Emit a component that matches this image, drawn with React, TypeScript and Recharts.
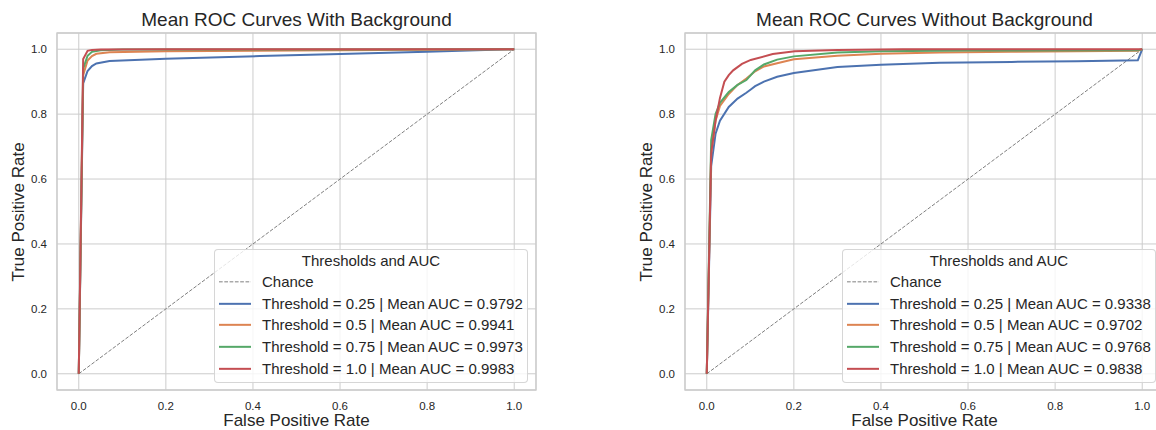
import React from 'react';
import { LineChart, Line, XAxis, YAxis, CartesianGrid, ReferenceArea, Legend, Customized } from 'recharts';

const axisTicks = [0, 0.2, 0.4, 0.6, 0.8, 1.0];
const chanceFpr = [0, 1];
const chanceTpr = [0, 1];
const thresholds = ['0.25', '0.5', '0.75', '1.0'];
const leftAuc = ['0.9792', '0.9941', '0.9973', '0.9983'];
const rightAuc = ['0.9338', '0.9702', '0.9768', '0.9838'];
const colors = ['#4C72B0', '#DD8452', '#55A868', '#C44E52'];

// With background
const leftFpr025 = [0, 0.0101, 0.0202, 0.0303, 0.0404, 0.0707, 0.2, 0.416, 0.6, 0.8, 1.0];
const leftTpr025 = [0, 0.895, 0.933, 0.948, 0.956, 0.964, 0.971, 0.979, 0.985, 0.992, 1.0];
const leftFpr05 = [0, 0.0101, 0.0202, 0.0303, 0.0404, 0.0707, 0.2, 0.5, 1.0];
const leftTpr05 = [0, 0.92, 0.965, 0.979, 0.986, 0.991, 0.994, 0.996, 1.0];
const leftFpr075 = [0, 0.0101, 0.0202, 0.0303, 0.0505, 0.101, 0.4, 1.0];
const leftTpr075 = [0, 0.94, 0.98, 0.992, 0.997, 0.999, 0.9995, 1.0];
const leftFpr10 = [0, 0.0101, 0.0202, 0.0303, 0.0505, 0.2, 1.0];
const leftTpr10 = [0, 0.97, 0.995, 0.998, 0.999, 1.0, 1.0];

// Without background
const rightFpr025 = [0, 0.0101, 0.0202, 0.0303, 0.0505, 0.0707, 0.0909, 0.101, 0.1111, 0.1313, 0.1616, 0.2, 0.3, 0.4, 0.535, 0.7, 0.85, 0.9899, 1.0];
const rightTpr025 = [0, 0.64, 0.74, 0.78, 0.822, 0.848, 0.866, 0.876, 0.886, 0.9, 0.915, 0.927, 0.945, 0.952, 0.958, 0.961, 0.963, 0.966, 1.0];
const rightFpr05 = [0, 0.0101, 0.0202, 0.0303, 0.0505, 0.0707, 0.0909, 0.1111, 0.1313, 0.1616, 0.2, 0.3, 0.4, 0.535, 0.7, 0.9899, 1.0];
const rightTpr05 = [0, 0.68, 0.78, 0.825, 0.862, 0.89, 0.91, 0.932, 0.947, 0.957, 0.969, 0.98, 0.986, 0.99, 0.992, 0.995, 1.0];
const rightFpr075 = [0, 0.0101, 0.0202, 0.0303, 0.0505, 0.0707, 0.0909, 0.1111, 0.1313, 0.1616, 0.2, 0.3, 0.4, 0.6, 0.9899, 1.0];
const rightTpr075 = [0, 0.72, 0.8, 0.835, 0.868, 0.89, 0.905, 0.935, 0.953, 0.968, 0.978, 0.99, 0.994, 0.996, 0.997, 1.0];
const rightFpr10 = [0, 0.0101, 0.0202, 0.0303, 0.0404, 0.0505, 0.0606, 0.0808, 0.101, 0.1515, 0.202, 0.3, 0.45, 1.0];
const rightTpr10 = [0, 0.68, 0.78, 0.85, 0.9, 0.92, 0.935, 0.955, 0.967, 0.985, 0.994, 0.998, 1.0, 1.0];

type Pt = { x: number; y: number };
const zip = (xs: number[], ys: number[]): Pt[] => xs.map((x, i) => ({ x, y: ys[i] }));

const chanceData = zip(chanceFpr, chanceTpr);
const leftSeries = [zip(leftFpr025, leftTpr025), zip(leftFpr05, leftTpr05), zip(leftFpr075, leftTpr075), zip(leftFpr10, leftTpr10)];
const rightSeries = [zip(rightFpr025, rightTpr025), zip(rightFpr05, rightTpr05), zip(rightFpr075, rightTpr075), zip(rightFpr10, rightTpr10)];

const FONT = '"Liberation Sans", Arial, sans-serif';
const TEXT = '#262626';
const GRID = '#cccccc';

function LegendBox({ aucs }: { aucs: string[] }) {
  const rowH = 21.67;
  const rows = [
    { label: 'Chance', color: '#808080', dashed: true },
    ...thresholds.map((t, i) => ({ label: `Threshold = ${t} | Mean AUC = ${aucs[i]}`, color: colors[i], dashed: false })),
  ];
  return (
    <div
      style={{
        position: 'relative',
        width: 314,
        height: 134,
        boxSizing: 'border-box',
        background: 'rgba(255,255,255,0.8)',
        border: '1px solid rgba(204,204,204,0.8)',
        borderRadius: 4,
        fontFamily: FONT,
        color: TEXT,
        fontSize: 15,
      }}
    >
      <div style={{ position: 'absolute', left: 0, right: 0, top: 12 - rowH / 2 - 1, height: rowH, lineHeight: `${rowH}px`, textAlign: 'center' }}>
        Thresholds and AUC
      </div>
      {rows.map((r, i) => {
        const cy = 32.7 + i * rowH - 1;
        return (
          <div key={i} style={{ position: 'absolute', left: 0, right: 0, top: cy - rowH / 2, height: rowH }}>
            <svg width={40} height={rowH} style={{ position: 'absolute', left: 0, top: 0 }}>
              <line
                x1={4}
                x2={36}
                y1={rowH / 2}
                y2={rowH / 2}
                stroke={r.color}
                strokeWidth={r.dashed ? 1 : 2}
                strokeDasharray={r.dashed ? '3.7 1.6' : undefined}
              />
            </svg>
            <span style={{ position: 'absolute', left: 47, top: 0, lineHeight: `${rowH}px`, whiteSpace: 'nowrap' }}>{r.label}</span>
          </div>
        );
      })}
    </div>
  );
}

function RocPanel({ title, series, aucs, left }: { title: string; series: Pt[][]; aucs: string[]; left: number }) {
  const cx = 296.5;
  return (
    <div style={{ position: 'absolute', left, top: 0, width: 578, height: 430 }}>
      <LineChart width={578} height={430} margin={{ top: 33, right: 42, bottom: 0, left: 0 }}>
        <CartesianGrid stroke={GRID} strokeWidth={1} />
        <XAxis
          type="number"
          dataKey="x"
          domain={[-0.05, 1.05]}
          ticks={axisTicks}
          tickFormatter={(v: number) => v.toFixed(1)}
          axisLine={false}
          tickLine={false}
          tickSize={0}
          tickMargin={12}
          height={40}
          allowDataOverflow
          tick={{ fill: TEXT, fontSize: 11.5, fontFamily: FONT }}
        />
        <YAxis
          type="number"
          dataKey="y"
          domain={[-0.05, 1.05]}
          ticks={axisTicks}
          tickFormatter={(v: number) => v.toFixed(1)}
          axisLine={false}
          tickLine={false}
          tickSize={0}
          tickMargin={10}
          width={57}
          allowDataOverflow
          tick={{ fill: TEXT, fontSize: 11.5, fontFamily: FONT }}
        />
        <ReferenceArea x1={-0.05} x2={1.05} y1={-0.05} y2={1.05} fill="none" stroke={GRID} strokeWidth={1.3} />
        <Line data={chanceData} dataKey="y" type="linear" stroke="#808080" strokeWidth={1} strokeDasharray="3.7 1.6" dot={false} isAnimationActive={false} />
        {series.map((d, i) => (
          <Line key={i} data={d} dataKey="y" type="linear" stroke={colors[i]} strokeWidth={2} dot={false} isAnimationActive={false} />
        ))}
        <Legend
          layout="vertical"
          align="center"
          verticalAlign="middle"
          wrapperStyle={{ left: 214, top: 249, width: 314, height: 134 }}
          content={() => <LegendBox aucs={aucs} />}
        />
        <Customized
          component={() => (
            <g style={{ fontFamily: FONT }} fill={TEXT}>
              <text x={cx} y={26} textAnchor="middle" fontSize={19}>{title}</text>
              <text x={cx} y={426} textAnchor="middle" fontSize={17}>False Positive Rate</text>
              <text x={23.5} y={212} textAnchor="middle" fontSize={17} transform="rotate(-90 23.5 212)">True Positive Rate</text>
            </g>
          )}
        />
      </LineChart>
    </div>
  );
}

export default function App() {
  return (
    <div style={{ position: 'fixed', left: 0, top: 0, width: 1156, height: 430, overflow: 'hidden', background: '#fff', fontFamily: FONT }}>
      <RocPanel title="Mean ROC Curves With Background" series={leftSeries} aucs={leftAuc} left={0} />
      <RocPanel title="Mean ROC Curves Without Background" series={rightSeries} aucs={rightAuc} left={628} />
    </div>
  );
}
